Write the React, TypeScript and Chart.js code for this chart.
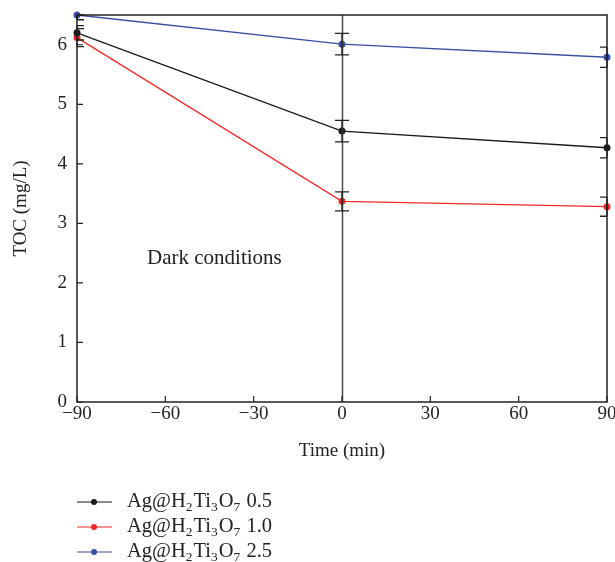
import React, { useEffect, useRef } from "react";
import { Chart, registerables } from "chart.js";

Chart.register(...registerables);

const times = [-90, 0, 90];
const seriesNames = ["0.5", "1.0", "2.5"];
const toc05 = [6.2, 4.55, 4.27];
const toc10 = [6.12, 3.37, 3.28];
const toc25 = [6.5, 6.01, 5.79];
const err05 = [0.12, 0.18, 0.17];
const err10 = [0.15, 0.16, 0.16];
const err25 = [0.08, 0.18, 0.17];
const xTicks = [-90, -60, -30, 0, 30, 60, 90];
const yTicks = [0, 1, 2, 3, 4, 5, 6];
const colors = ["#1a1a1a", "#ee2a2a", "#3a4fa3"];

const FONT = "'Liberation Serif', 'DejaVu Serif', serif";

export default function App() {
  const ref = useRef<HTMLCanvasElement>(null);
  useEffect(() => {
    const values = [toc05, toc10, toc25];
    const errs = [err05, err10, err25];
    const overlay = {
      id: "overlay",
      afterDatasetsDraw(chart: any) {
        const ctx = chart.ctx;
        const xs = chart.scales.x;
        const ys = chart.scales.y;
        const a = chart.chartArea;
        ctx.save();
        ctx.strokeStyle = "#4a4a4a";
        ctx.lineWidth = 1.5;
        ctx.beginPath();
        ctx.moveTo(Math.round(xs.getPixelForValue(0)) + 0.5, a.top);
        ctx.lineTo(Math.round(xs.getPixelForValue(0)) + 0.5, a.bottom);
        ctx.stroke();
        ctx.strokeStyle = "#222";
        ctx.lineWidth = 1.3;
        values.forEach((vals, si) => {
          vals.forEach((v, i) => {
            const px = xs.getPixelForValue(times[i]);
            const top = Math.max(ys.getPixelForValue(v + errs[si][i]), a.top);
            const bot = ys.getPixelForValue(v - errs[si][i]);
            ctx.beginPath();
            ctx.moveTo(px, top);
            ctx.lineTo(px, bot);
            const l = i === 0 ? px : px - 7;
            const r = i === times.length - 1 ? px : px + 7;
            ctx.moveTo(l, top);
            ctx.lineTo(r, top);
            ctx.moveTo(l, bot);
            ctx.lineTo(r, bot);
            ctx.stroke();
          });
        });
        ctx.restore();
      },
      afterDraw(chart: any) {
        const ctx = chart.ctx;
        const xs = chart.scales.x;
        const ys = chart.scales.y;
        const a = chart.chartArea;
        ctx.save();
        ctx.strokeStyle = "#222";
        ctx.lineWidth = 1.5;
        ctx.strokeRect(a.left, a.top, a.right - a.left, a.bottom - a.top);
        ctx.lineWidth = 1.2;
        ctx.beginPath();
        xTicks.forEach((t) => {
          const px = xs.getPixelForValue(t);
          ctx.moveTo(px, a.bottom);
          ctx.lineTo(px, a.bottom - 6);
        });
        yTicks.forEach((t) => {
          const py = ys.getPixelForValue(t);
          ctx.moveTo(a.left, py);
          ctx.lineTo(a.left + 6, py);
        });
        ctx.stroke();
        ctx.fillStyle = "#222";
        ctx.font = "21px " + FONT;
        ctx.textBaseline = "middle";
        ctx.textAlign = "left";
        ctx.fillText("Dark conditions", 147, 258);
        values.forEach((_, si) => {
          const y = 502 + si * 25;
          ctx.strokeStyle = colors[si];
          ctx.fillStyle = colors[si];
          ctx.lineWidth = 1.2;
          ctx.beginPath();
          ctx.moveTo(77, y);
          ctx.lineTo(112, y);
          ctx.stroke();
          ctx.beginPath();
          ctx.arc(94, y, 3, 0, Math.PI * 2);
          ctx.fill();
          ctx.fillStyle = "#222";
          let x = 127;
          const big = "20.5px " + FONT;
          const small = "13.5px " + FONT;
          const parts: [string, boolean][] = [
            ["Ag@H", false], ["2", true], ["Ti", false], ["3", true],
            ["O", false], ["7", true], [" " + seriesNames[si], false],
          ];
          parts.forEach(([s, sub]) => {
            ctx.font = sub ? small : big;
            ctx.fillText(s, x, sub ? y + 5 : y);
            x += ctx.measureText(s).width + (sub ? 1 : 0);
          });
        });
        ctx.restore();
      },
    };

    const chart = new Chart(ref.current!, {
      type: "line",
      data: {
        datasets: values.map((vals, si) => ({
          label: "Ag@H2Ti3O7 " + seriesNames[si],
          data: vals.map((v, i) => ({ x: times[i], y: v })),
          borderColor: colors[si],
          backgroundColor: colors[si],
          borderWidth: 1.3,
          pointRadius: 3.5,
          pointHoverRadius: 3.5,
          pointBorderWidth: 0,
          tension: 0,
          clip: false as any,
        })),
      },
      options: {
        responsive: false,
        animation: false,
        layout: { padding: { left: 0, right: 8, top: 15, bottom: 100 } },
        plugins: { legend: { display: false }, tooltip: { enabled: false } },
        scales: {
          x: {
            type: "linear",
            min: -90,
            max: 90,
            afterBuildTicks: (s: any) => {
              s.ticks = xTicks.map((v) => ({ value: v }));
            },
            afterFit: (s: any) => {
              s.height = 60;
              s.paddingLeft = 0;
              s.paddingRight = 0;
            },
            grid: { display: false, drawTicks: false },
            border: { display: false },
            ticks: {
              color: "#222",
              font: { family: FONT, size: 19 },
              padding: 1,
              maxRotation: 0,
              callback: (v: any) => String(v).replace("-", "\u2212"),
            },
            title: {
              display: true,
              text: "Time (min)",
              color: "#222",
              font: { family: FONT, size: 19 },
              padding: { top: 8, bottom: 0 },
            },
          },
          y: {
            min: 0,
            max: 6.5,
            afterBuildTicks: (s: any) => {
              s.ticks = yTicks.map((v) => ({ value: v }));
            },
            afterFit: (s: any) => {
              s.width = 77;
              s.paddingTop = 0;
              s.paddingBottom = 0;
            },
            grid: { display: false, drawTicks: false },
            border: { display: false },
            ticks: {
              color: "#222",
              font: { family: FONT, size: 19 },
              padding: 10,
            },
            title: {
              display: true,
              text: "TOC (mg/L)",
              color: "#222",
              font: { family: FONT, size: 19 },
              padding: { top: 10, bottom: 10 },
            },
          },
        },
      },
      plugins: [overlay],
    } as any);
    return () => chart.destroy();
  }, []);
  return (
    <div style={{ position: "absolute", left: 0, top: 0, width: 615, height: 562, background: "#fff" }}>
      <canvas ref={ref} width={615} height={562} />
    </div>
  );
}
